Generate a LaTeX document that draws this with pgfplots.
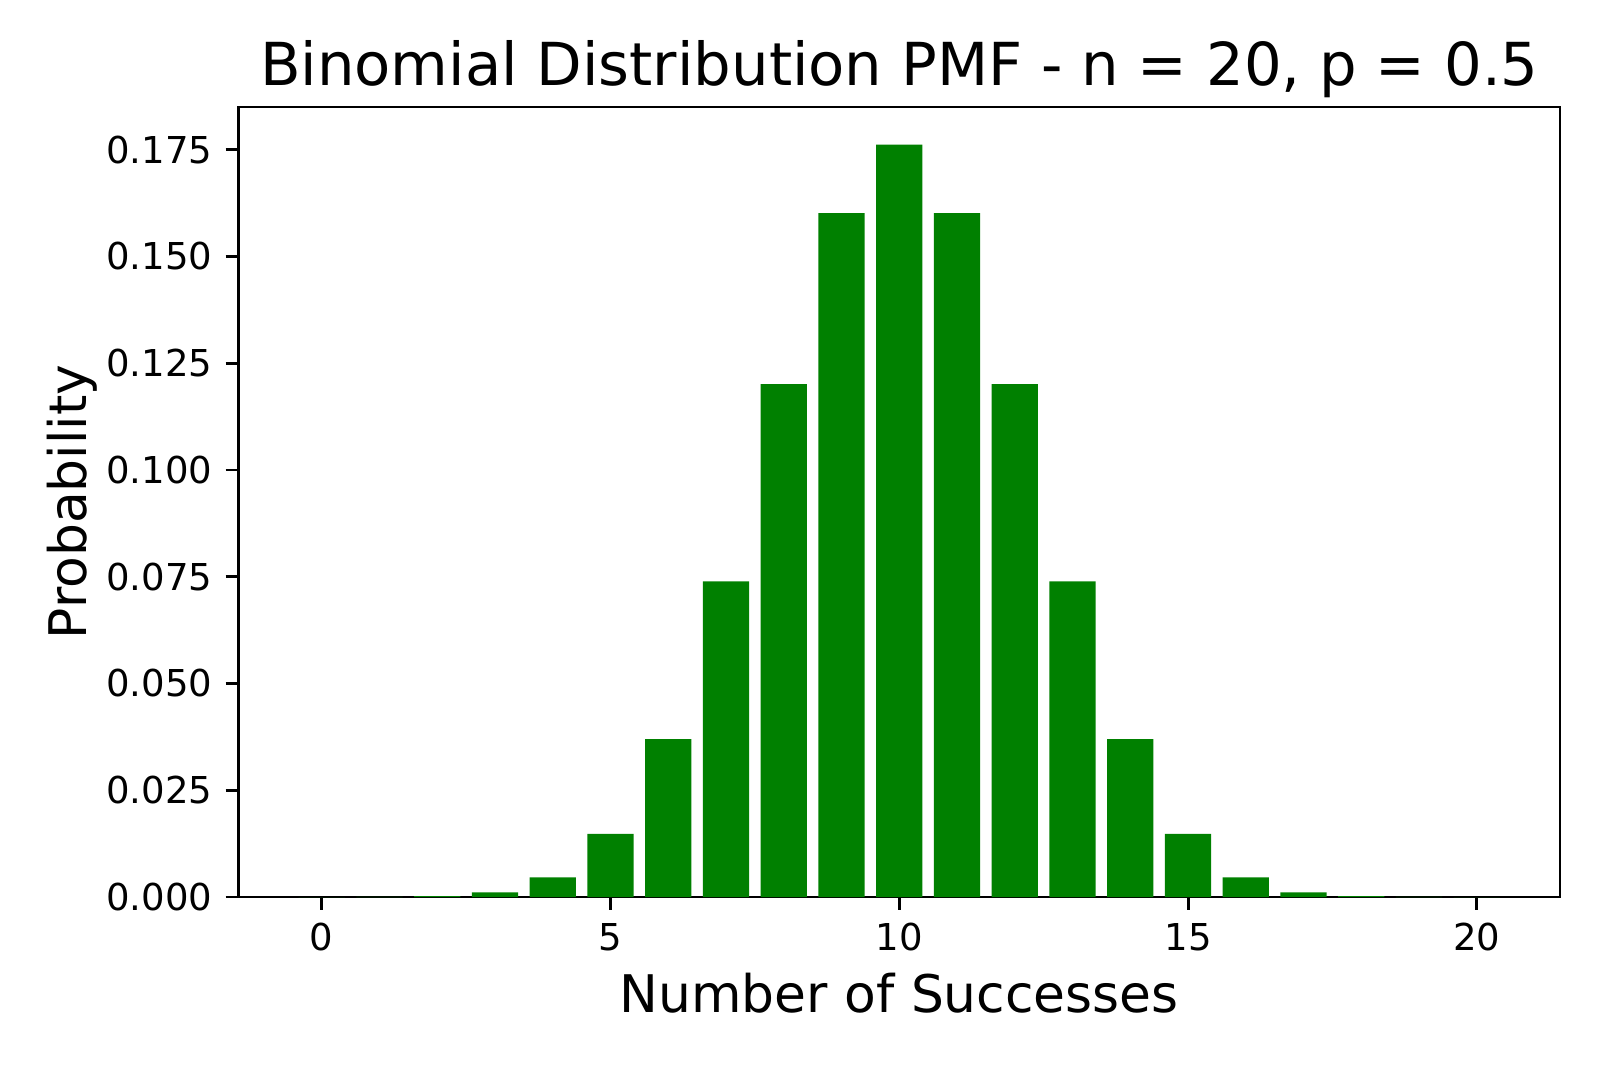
\documentclass[border=0pt]{standalone}
\usepackage{fontspec}
\setmainfont{DejaVu Sans}
\usepackage{pgfplots}
\pgfplotsset{compat=1.18}
\definecolor{mplgreen}{RGB}{0,128,0}
\begin{document}
\begin{tikzpicture}
  \path[use as bounding box] (-64.4pt,-45.6pt) rectangle (367.6pt,242.2pt);
  \begin{axis}[
    at={(0,0)}, anchor=south west,
    scale only axis,
    width=356.8pt,
    height=213.3pt,
    xmin=-1.44, xmax=21.44,
    ymin=0, ymax=0.185,
    xtick={0,5,10,15,20},
    ytick={0,0.025,0.05,0.075,0.1,0.125,0.15,0.175},
    tick align=outside,
    major tick length=3.5pt,
    every tick/.style={line width=0.8pt, black},
    axis line style={line width=0.8pt},
    xtick pos=bottom, ytick pos=left,
    tick label style={font=\fontsize{10}{12}\selectfont},
    /pgf/number format/assume math mode=true,
    yticklabel style={/pgf/number format/.cd, fixed, fixed zerofill, precision=3},
    scaled y ticks=false,
    title={Binomial Distribution PMF - n = 20, p = 0.5},
    every axis title shift=0pt,
    title style={font=\fontsize{16}{19}\selectfont, at={(axis description cs:0.5,1.0278)}, anchor=base},
    xlabel={Number of Successes},
    xlabel style={font=\fontsize{14}{17}\selectfont, at={(axis description cs:0.5,-0.1464)}, anchor=base},
    ylabel={Probability},
    ylabel style={font=\fontsize{14}{17}\selectfont, at={(axis description cs:-0.1149,0.5)}, anchor=base},
    ybar, bar width=0.8,
  ]
    \addplot[fill=mplgreen, draw=none] coordinates {
      (0,0.00000095) (1,0.0000191) (2,0.000181) (3,0.001087) (4,0.004621)
      (5,0.014786) (6,0.036964) (7,0.073929) (8,0.120134) (9,0.160179)
      (10,0.176197)
      (11,0.160179) (12,0.120134) (13,0.073929) (14,0.036964) (15,0.014786)
      (16,0.004621) (17,0.001087) (18,0.000181) (19,0.0000191) (20,0.00000095)
    };
  \end{axis}
\end{tikzpicture}
\end{document}
